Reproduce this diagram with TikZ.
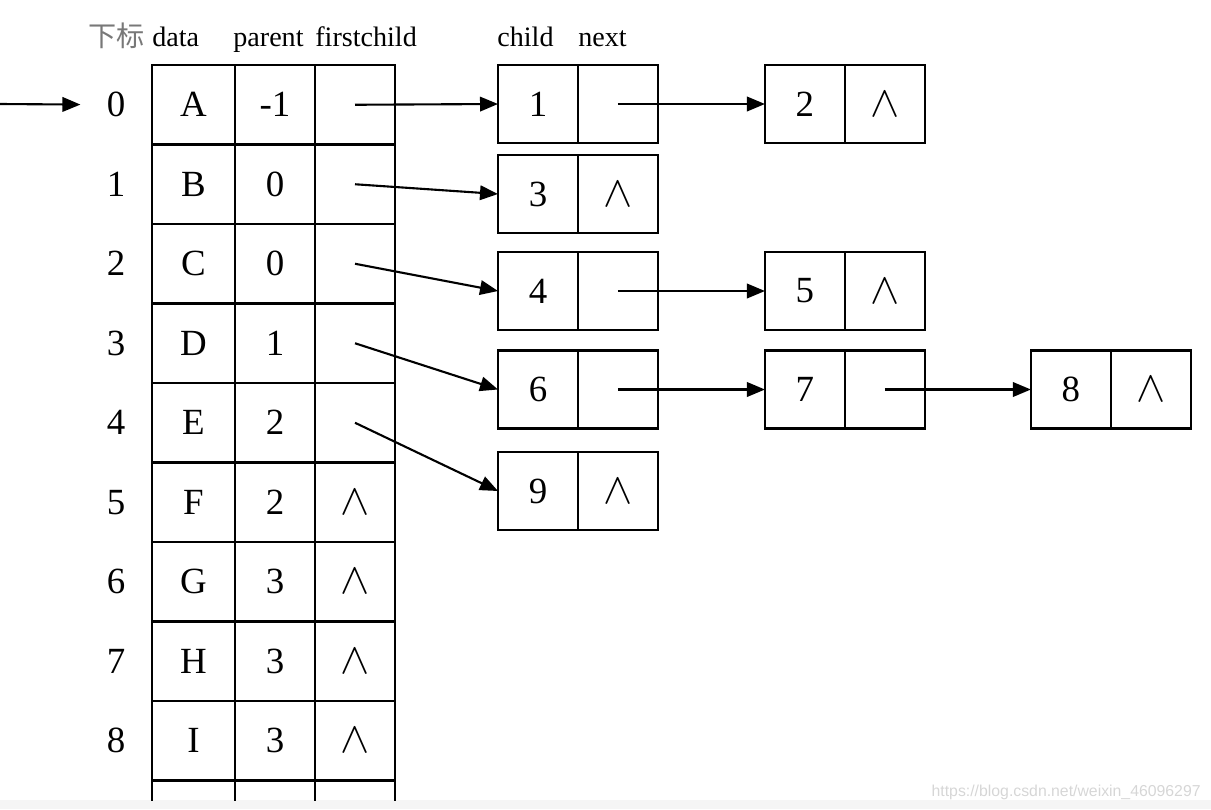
\documentclass[tikz,border=0pt]{standalone}
\usepackage{fontspec}
\setmainfont{Liberation Serif}
\setsansfont{Liberation Sans}
\newfontfamily\cjk{Noto Sans CJK SC}
\usepackage{tikz}
\usetikzlibrary{arrows.meta,positioning}
\definecolor{hdgray}{RGB}{120,120,120}
\definecolor{wmgray}{RGB}{214,214,214}
\definecolor{bandgray}{RGB}{245,245,245}
\tikzstyle{cell} = [rectangle, draw, line width=1.2pt, outer sep=0pt, inner sep=0pt, minimum width=1.6cm, minimum height=1.59cm, font=\fontsize{21}{21}\selectfont]
\tikzstyle{half} = [cell, minimum height=1.56cm]
\tikzstyle{idx} = [inner sep=0pt, font=\fontsize{21}{21}\selectfont]
\tikzstyle{head} = [anchor=base west, inner sep=0pt, font=\fontsize{16}{16}\selectfont]
\tikzstyle{arrow} = [line width=1.2pt, -{Triangle[length=0.36cm,width=0.29cm]}]
\newcommand{\nil}{{\fontsize{30}{30}\selectfont$\wedge$}}

\begin{document}
\begin{tikzpicture}[x=0.02cm, y=-0.02cm]
\useasboundingbox (0,0) rectangle (1211,809);
\fill[bandgray] (0,800) rectangle (1211,809);
\node[anchor=base east, inner sep=0pt, font=\sffamily\fontsize{9}{9}\selectfont, text=wmgray] (mark) at (1201,796) {https://blog.csdn.net/weixin\_46096297};
\clip (0,0) rectangle (1211,800);

% headings
\node[head, text=hdgray] (hidx) at (88,46) {\cjk 下标};
\node[head] (hdata) at (152,46) {data};
\node[head] (hpar) at (233,46) {parent};
\node[head] (hfc) at (315,46) {firstchild};
\node[head] (hchild) at (497,46) {child};
\node[head] (hnext) at (578,46) {next};

% node table
\foreach \d/\p/\f [count=\i from 0] in {A/-1/{}, B/0/{}, C/0/{}, D/1/{}, E/2/{}, F/2/\nil, G/3/\nil, H/3/\nil, I/3/\nil} {
  \node[idx] (i\i) at (116, {104.75+79.5*\i}) {\i};
  \node[cell, minimum width=1.66cm] (d\i) at (193.5, {104.75+79.5*\i}) {\d};
  \node[cell] (p\i) at (275, {104.75+79.5*\i}) {\p};
  \node[cell] (f\i) at (355, {104.75+79.5*\i}) {\f};
}
\node[cell, minimum width=1.66cm] (d9) at (193.5,820.25) {};
\node[cell] (p9) at (275,820.25) {};
\node[cell] (f9) at (355,820.25) {};

% child lists
\node[half] (n1) at (538,104) {1};
\node[half, right=0pt of n1] (n1x) {};
\node[half, right=2.14cm of n1x] (n2) {2};
\node[half, right=0pt of n2] (n2x) {\nil};

\node[half] (n3) at (538,194) {3};
\node[half, right=0pt of n3] (n3x) {\nil};

\node[half] (n4) at (538,291) {4};
\node[half, right=0pt of n4] (n4x) {};
\node[half, right=2.14cm of n4x] (n5) {5};
\node[half, right=0pt of n5] (n5x) {\nil};

\node[half] (n6) at (538,389.5) {6};
\node[half, right=0pt of n6] (n6x) {};
\node[half, right=2.14cm of n6x] (n7) {7};
\node[half, right=0pt of n7] (n7x) {};
\node[half, right=2.12cm of n7x] (n8) {8};
\node[half, right=0pt of n8] (n8x) {\nil};

\node[half] (n9) at (538,491) {9};
\node[half, right=0pt of n9] (n9x) {\nil};

% arrows
\coordinate (entry) at (0,104);
\draw[arrow, shorten >=0.52cm] (entry) -- (i0.west);
\draw[arrow] (f0.center) -- (n1.west);
\draw[arrow] (f1.center) -- (n3.west);
\draw[arrow] (f2.center) -- (n4.west);
\draw[arrow] (f3.center) -- (n6.west);
\draw[arrow] (f4.center) -- (n9.west);
\draw[arrow] (n1x.center) -- (n2.west);
\draw[arrow] (n4x.center) -- (n5.west);
\draw[arrow] (n6x.center) -- (n7.west);
\draw[arrow] (n7x.center) -- (n8.west);
\end{tikzpicture}
\end{document}
